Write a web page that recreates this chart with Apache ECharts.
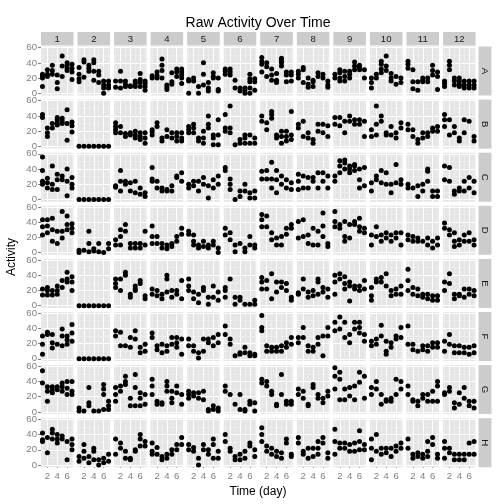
<!DOCTYPE html>
<html><head><meta charset="utf-8">
<script src="https://cdn.jsdelivr.net/npm/echarts@6/dist/echarts.min.js"></script>
<style>html,body{margin:0;padding:0;background:#fff}#c{width:504px;height:504px}</style>
</head><body><div id="c"></div>
<script>
const colLabels = ['1','2','3','4','5','6','7','8','9','10','11','12'];
const rowLabels = ['A','B','C','D','E','F','G','H'];
const days = [1,2,3,4,5,6,7];
const xTicks = [2,4,6];
const yTicks = [0,20,40,60];
const xMinor = [1,3,5,7];
const yMinor = [10,30,50];
const Z = [[0],[0],[0],[0],[0],[0],[0]];

const rowA = [
 [[9,20,23,25],[22,25,31],[25,30,37],[6,14,24],[22,36,49],[30,33,37,40],[18,28,33,38]],
 [[15,19,25,34],[21,41,44],[29,33,37],[17,29,40,44],[14,24,29],[0,7,11,16],[7,11,16]],
 [[8,16],[7,16,29],[9,12,16],[9,10],[9,13,16],[9,14,18,26],[4,9,13,16]],
 [[20,23],[20,23,28],[20,30,37,45],[5,8,11],[12,15,27],[22,28,32],[13,20,24,28,32]],
 [[0,16,18],[16,20],[0,9],[11,25,40],[3,7,14],[20,22,27],[3,5,20]],
 [[25,29,32],[24,28,32],[7,17],[3,7],[0,4,7],[0,7,15,19,25],[4,15,19]],
 [[28,38,42,47],[22,35,40],[17,24,32],[14,17,26],[36,40,43,46],[15,24,28],[16,24,28]],
 [[20,25,29],[14,31,34],[8,12,20],[9,15,17],[22,27],[20,25],[8,11,16]],
 [[20,25],[16,20,27,31],[16,22,29],[20,25,29],[31,36,41],[31,34,37],[20,31]],
 [[7,14,20],[20,25],[27,32,38,42],[30,36,49],[16,20,26],[12,22],[14,20]],
 [[33,38,42],[6,15,31],[4,15],[15,17,20],[15,20],[24,30,37],[5,22,28]],
 [[9,13,16],[31,37,42],[11,16,20],[9,12,16,20],[7,11,16],[7,11,16],[7,11,16]]
];
const rowB = [
 [[38,42],[13,18,24],[24,30],[28,31,35,38],[30,33,37],[8,30,48],[19,27,32]],
 Z,
 [[18,22,26,31],[18,26],[13,17],[15,18],[11,15,20],[9,13,18],[4,11,18]],
 [[15,19,22],[26,31],[7,11],[13,22],[11,18],[7,13,18],[7,11,18]],
 [[18,22,26],[18,24,29],[7,11],[4,11,20],[24,29,40],[2,11,15],[2,15,35]],
 [[20,24,42],[18,24,53],[2],[4,9],[4,11,15],[4,15],[4,11]],
 [[33,40],[22,31],[37,42,46],[11,15],[4,13,20],[7,13,20],[9,15,46]],
 [[24,29],[13,33],[11,18],[4,9],[20,29],[18,29],[13,27]],
 [[29,38],[27,38],[18,33],[33,40],[29,35],[29,35],[13,33]],
 [[13,22],[15,29,53],[33,40],[15,18],[15,26],[11,18],[24,31]],
 [[22,29],[13,22],[4,9],[11,18],[13,18],[20,24],[20,26]],
 [[26,35,42],[15,35],[18,26],[7,11],[18,35],[33],[7,13]]
];
const rowC = [
 [[20,24,38,56],[15,22,28],[13,20,44],[13,26,33],[26,31],[5,24,40],[15,20,29]],
 Z,
 [[16,18],[11,24,38],[20,24],[11,22],[9,24],[7,15],[4,9]],
 [[24,27,42],[15,24],[11,15],[11,13],[11,18],[29,31],[24,35]],
 [[15,20],[18,24],[11,24],[20,29],[2,18],[15,26],[20,31]],
 [[38,42],[13,20,27],[0],[4,11],[11,20],[2,9],[2,11]],
 [[27,37],[27,38],[15,27,49],[9,26,38],[20,31],[15,26],[13,22]],
 [[13,24,33],[15,31],[15,29],[24,29],[15,35],[24,35],[15,31]],
 [[24,31],[35,44,51],[40,48,52],[35,40,44],[38,44,46],[15,26,40],[18,42]],
 [[11,22],[26,31],[22,38],[20,35],[9,20],[22,46],[20,26]],
 [[15,20],[15],[4,18],[11,20],[24,37,40],[4,11],[4,11]],
 [[26,44],[24,42],[7,11],[11,15],[11,24],[15,29],[9,24]]
];
const rowD = [
 [[23,34,43],[26,35,43],[15,30,45],[12,28],[19,28,54],[30,37,48],[26,32,38]],
 [[0,3],[3],[1,12,28],[2,5],[1,12],[0],[5,12]],
 [[10,17],[10,21,30],[28,37],[6,12],[6,12],[6,12],[10,28]],
 [[12,21,35],[12,21],[6,12],[5,10],[8,12],[15,21],[24,32]],
 [[24,28],[10,15,23],[6,10],[8,15],[6,10],[10,15],[0,6]],
 [[23,32],[17,26],[1,10],[12],[1,6],[10,21],[6,10]],
 [[34,43,50],[34,48],[17,26],[10,19],[10,21],[24,32],[32,37]],
 [[19,41],[21,43],[12,23],[10,32],[10,28],[21,35,52],[8,12]],
 [[34,41,54],[32,37],[15,21,41],[19,37],[37,41],[28,34,45],[26,32]],
 [[10,23],[21,34],[15,23],[19,26],[15,23],[19,26],[10,26]],
 [[17,23],[15,21],[15,19],[15],[10,19],[6,15],[10,19]],
 [[32,39],[23,30],[8,15,26],[10,17],[15,23],[15,26],[10,17]]
];
const rowE = [
 [[14,22],[14,20,24],[14,20],[15,20,26],[24,33],[31,35,44],[20,31,38]],
 Z,
 [[24,29,35],[20,35],[40,44],[11,15],[20,22,26],[29,33],[9,13]],
 [[15,22],[13,20],[9,15],[18,35,40],[11,20],[15,20],[9,33]],
 [[20,26,35],[9,18],[4,15],[20,24],[2,11],[11,26],[7,18]],
 [[11,20,24],[35],[2,11],[7,11],[2],[2],[2,7]],
 [[22,31,37],[22,33],[9,42],[18,31],[24,31],[20,29],[7,11]],
 [[15,17],[22,35],[11,18],[13,20],[15,31,35],[18,24],[11,22]],
 [[15,31,40],[35,42],[22,29,38],[6,26,31],[22,26],[20,26],[22,33]],
 [[7,13,24],[31,35],[31,37],[26,42],[13,20],[15,22],[15,26]],
 [[20,33,48],[15,24],[13,22],[11,15],[9,15],[7,13],[7,13]],
 [[20,31],[29,42],[9,15],[13,15],[11,22],[15,22],[13,20]]
];
const rowF = [
 [[6,19,30],[32,35],[14,21,32],[19],[17,30,39],[19,25,30],[23,34,45]],
 Z,
 [[30,37],[17,35],[17],[15,28],[26,37],[8,15],[10,19]],
 [[28,34],[12,17],[8,19],[10,17],[19,28],[15,21,28],[6,26]],
 [[17,26],[10,17],[1,8],[10,26],[21,26],[17,28],[21,32]],
 [[32,43],[19,26],[4],[6,8],[8,15],[4,8],[4,6]],
 [[37,41,57],[10,17],[10,15],[10,15],[10,17],[15,21],[19,28]],
 [[21,28],[28,41],[10,17],[10,15],[19,28],[4,30],[30,41]],
 [[37,48],[39,55],[28,48],[21,32],[39,48],[34,41,48],[23,32]],
 [[17,23],[19,26],[30,44],[6,10,23],[15,21],[26,30],[28,41]],
 [[19,43],[12,19],[10],[12,17],[10,17],[15,21],[15,21]],
 [[10,23],[19,32],[8,17],[8,17],[8,15],[6,15],[8,17]]
];
const rowG = [
 [[38,54],[14,27,33],[25,29,33],[29,33],[27,33,38],[23,31,40],[23,27,40]],
 [[1,5],[1],[8,12,32],[1],[1],[3,23,30,36],[3,8,14]],
 [[14,23,32],[27,34],[36,40,47],[8,18],[8,32,49],[8,18,25],[10,23]],
 [[23,34,43],[10,14],[10,12],[27,34,40],[12,18,27],[25,34],[10,23]],
 [[18,23,27],[21,25],[18,25],[16,27],[1,3],[3,8],[1,5]],
 [[27,34],[23],[10],[3,23],[1,3],[10,14],[1,12]],
 [[38,43],[34,40],[23,27],[8,10],[23,49],[10,14],[10,14]],
 [[23,30],[18,27],[8,10],[32,36],[18,23],[12,18],[21,27]],
 [[30,47,58],[16,43,52],[16,30],[21,32],[16,34],[39,52],[18,47]],
 [[23,32],[30,40],[10,23],[14,16],[14,18],[23,43],[30,40]],
 [[23,34],[14,16],[8,14],[18,23],[14,23],[14,27],[14,34,40]],
 [[23,25],[27,32],[5,12],[10,25],[18,32],[8,14],[5,14]]
];
const rowH = [
 [[31,33,42],[16,36],[34,42,47],[29,34,40],[34,38],[7,31],[20,27,34]],
 [[5,11],[9,18,27],[3,11],[7,18,22],[0,7],[3,9],[5,14]],
 [[14,34],[22,29],[9,18],[7,9],[18,20],[25,34,40],[25,31]],
 [[14,18,29],[14,23],[7,11],[9,14],[14,20],[20,27],[27,36]],
 [[20,27],[18,23],[0,9],[20,27],[14,20],[9,27,34],[9,18]],
 [[31,40],[18,22],[7,11],[7,14],[9,18],[25,29],[11,20]],
 [[31,40,49],[18,25],[14,22],[11,18],[9,16],[29,34],[11,14]],
 [[29,36],[14,18],[9,22],[11,22],[14,22,31],[29,36],[9,16]],
 [[14,31,47],[22,29],[22,29],[18,27],[18,29],[20,31,45],[20,27]],
 [[7,22,34],[18,40],[14,22],[16,22],[11,22],[18,25],[22,29]],
 [[22,34],[9,14],[11,16],[9,14],[11,18,31],[27,36],[9,14]],
 [[9,22,31],[16,22],[7,14],[7,14],[7,14],[14,29],[14,31]]
];
const allRows = [rowA,rowB,rowC,rowD,rowE,rowF,rowG,rowH];

// layout
const FONT = 'Liberation Sans, Arial, Helvetica, sans-serif';
const L0 = 41, PW = 32.5, PX = 36.55;
const T0 = 46.5, PH = 49, PY = 53.1;
const YMIN = -2.93, YMAX = 61.5;
const XMIN = 0.7, XMAX = 7.3;
const NC = 12, NR = 8;

const grids = [], xAxes = [], yAxes = [], series = [], graphics = [];
const gridLineData = [];
xMinor.forEach(v => gridLineData.push({xAxis: v, lineStyle: {color: '#F2F2F2', width: 0.5, type: 'solid'}}));
yMinor.forEach(v => gridLineData.push({yAxis: v, lineStyle: {color: '#F2F2F2', width: 0.5, type: 'solid'}}));
xTicks.forEach(v => gridLineData.push({xAxis: v, lineStyle: {color: '#FFFFFF', width: 1, type: 'solid'}}));
yTicks.forEach(v => gridLineData.push({yAxis: v, lineStyle: {color: '#FFFFFF', width: 1, type: 'solid'}}));

for (let r = 0; r < NR; r++) {
  for (let c = 0; c < NC; c++) {
    const i = r * NC + c;
    const left = L0 + c * PX, top = T0 + r * PY;
    grids.push({left: left, top: top, width: PW, height: PH, show: true,
      backgroundColor: '#E5E5E5', borderWidth: 0, containLabel: false});
    const bottomRow = r === NR - 1, leftCol = c === 0;
    xAxes.push({gridIndex: i, type: 'value', min: XMIN, max: XMAX,
      splitLine: {show: false}, axisLine: {show: false},
      axisTick: {show: bottomRow, length: 3, customValues: xTicks, lineStyle: {color: '#7F7F7F', width: 1}},
      axisLabel: {show: bottomRow, customValues: xTicks, color: '#7F7F7F', fontSize: 9.6, margin: 4, fontFamily: FONT}});
    yAxes.push({gridIndex: i, type: 'value', min: YMIN, max: YMAX,
      splitLine: {show: false}, axisLine: {show: false},
      axisTick: {show: leftCol, length: 3, customValues: yTicks, lineStyle: {color: '#7F7F7F', width: 1}},
      axisLabel: {show: leftCol, customValues: yTicks, color: '#7F7F7F', fontSize: 9.6, margin: 4, fontFamily: FONT}});
    const panel = allRows[r][c];
    const pts = [];
    panel.forEach((vals, d) => vals.forEach(v => pts.push([days[d], v])));
    series.push({type: 'scatter', xAxisIndex: i, yAxisIndex: i, data: pts,
      symbol: 'circle', symbolSize: 5, itemStyle: {color: '#000000', opacity: 1},
      silent: true, animation: false, z: 3, emphasis: {disabled: true},
      markLine: {silent: true, symbol: ['none', 'none'], label: {show: false}, animation: false,
        z: 1, emphasis: {disabled: true}, data: gridLineData}});
  }
}

// strips
for (let c = 0; c < NC; c++) {
  const left = L0 + c * PX;
  graphics.push({type: 'rect', shape: {x: left, y: 32, width: PW, height: 13.5}, style: {fill: '#CCCCCC'}, silent: true});
  graphics.push({type: 'text', x: left + PW / 2, y: 39, silent: true,
    style: {text: colLabels[c], fontSize: 9.6, fontFamily: FONT, fill: '#1A1A1A', textAlign: 'center', textVerticalAlign: 'middle'}});
}
for (let r = 0; r < NR; r++) {
  const top = T0 + r * PY;
  graphics.push({type: 'rect', shape: {x: 478.5, y: top, width: 13, height: PH}, style: {fill: '#CCCCCC'}, silent: true});
  graphics.push({type: 'text', x: 485, y: top + PH / 2, rotation: -Math.PI / 2, silent: true,
    style: {text: rowLabels[r], fontSize: 9.6, fontFamily: FONT, fill: '#1A1A1A', textAlign: 'center', textVerticalAlign: 'middle'}});
}
graphics.push({type: 'text', x: 258, y: 23, silent: true,
  style: {text: 'Raw Activity Over Time', fontSize: 14, fontFamily: FONT, fill: '#000', textAlign: 'center', textVerticalAlign: 'middle'}});
graphics.push({type: 'text', x: 258, y: 492, silent: true,
  style: {text: 'Time (day)', fontSize: 12, fontFamily: FONT, fill: '#000', textAlign: 'center', textVerticalAlign: 'middle'}});
graphics.push({type: 'text', x: 12, y: 257, rotation: Math.PI / 2, silent: true,
  style: {text: 'Activity', fontSize: 12, fontFamily: FONT, fill: '#000', textAlign: 'center', textVerticalAlign: 'middle'}});

const chart = echarts.init(document.getElementById('c'), null, {renderer: 'canvas'});
chart.setOption({animation: false, backgroundColor: '#FFFFFF', grid: grids, xAxis: xAxes, yAxis: yAxes, series: series, graphic: graphics});
</script>
</body></html>
